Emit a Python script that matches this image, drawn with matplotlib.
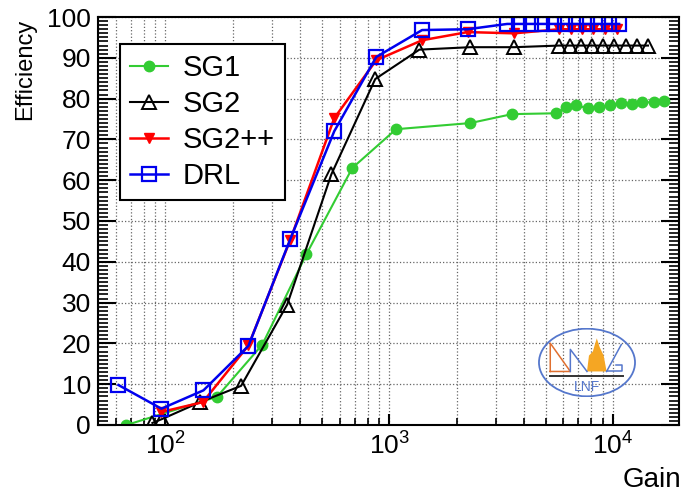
import matplotlib
matplotlib.use("Agg")
import matplotlib.pyplot as plt
from matplotlib.ticker import MultipleLocator, LogLocator, NullFormatter
from matplotlib.patches import Ellipse, Polygon

plt.rcParams['font.family'] = ['Liberation Sans', 'DejaVu Sans']

# data (gain, efficiency in %)
gain_sg1 = [67, 170, 271, 426, 684, 1073, 2300, 3540, 5560, 6170, 6840, 7730,
            8660, 9700, 10870, 12170, 13500, 15240, 16900]
eff_sg1 = [0, 6.9, 19.7, 41.8, 63, 72.5, 74, 76.2, 76.4, 77.9, 78.4, 77.6,
           77.9, 78.4, 78.9, 78.6, 79.1, 79.1, 79.4]

gain_sg2 = [87.5, 97, 143, 218, 350, 551, 866, 1363, 2300, 3620, 5740, 6425,
            7195, 8060, 9020, 10100, 11420, 12790, 14320]
eff_sg2 = [0.5, 1.5, 5.6, 9.6, 29.5, 61.4, 84.8, 92, 92.6, 92.6, 93, 93,
           93, 93, 93, 93, 93, 93, 93]

gain_sg2pp = [96, 147, 235, 361, 568, 875, 1402, 2238, 3620, 5740, 6495,
              7280, 8150, 9200, 10420]
eff_sg2pp = [3.2, 5.6, 19.5, 45.3, 75.2, 89.4, 94.3, 96.3, 96, 97, 97,
             97, 97, 97, 97]

gain_drl = [61.7, 96, 148, 235, 361, 568, 875, 1402, 2238, 3365, 3800, 4300,
            4820, 5450, 6110, 6840, 7660, 8570, 9590, 10640]
eff_drl = [9.8, 4, 8.5, 19.4, 45.5, 72, 90.2, 96.8, 97, 98.3, 98.3, 98.3,
           98.3, 98.3, 98.3, 98.3, 98.3, 98.3, 98.3, 98.3]

fig = plt.figure(figsize=(6.84, 4.92), dpi=100)
ax = fig.add_axes([98/684, 67/492, 581/684, 408/492])

ax.plot(gain_sg1, eff_sg1, color='#33cc33', lw=1.5, marker='o', ms=7.5,
        label='SG1')
ax.plot(gain_sg2, eff_sg2, color='black', lw=1.5, marker='^', ms=10,
        mfc='none', mew=1.4, label='SG2')
ax.plot(gain_sg2pp, eff_sg2pp, color='red', lw=1.8, marker='v', ms=7,
        label='SG2++')
ax.plot(gain_drl, eff_drl, color='#0000ee', lw=1.8, marker='s', ms=10,
        mfc='none', mew=1.6, label='DRL')

ax.set_xscale('log')
ax.set_xlim(50, 19700)
ax.set_ylim(0, 100)

ax.yaxis.set_major_locator(MultipleLocator(10))
ax.yaxis.set_minor_locator(MultipleLocator(1))
ax.xaxis.set_minor_locator(LogLocator(base=10, subs=range(2, 10)))
ax.xaxis.set_minor_formatter(NullFormatter())

ax.grid(True, which='major', axis='y', ls=':', color='0.4', lw=0.9)
ax.grid(True, which='both', axis='x', ls=':', color='0.4', lw=0.9)
ax.set_axisbelow(True)

for s in ax.spines.values():
    s.set_linewidth(1.5)

ax.tick_params(axis='y', which='major', direction='in', length=13, width=1.5,
               right=True, labelsize=19, pad=5)
ax.tick_params(axis='y', which='minor', direction='in', length=7, width=1.2,
               right=True)
ax.tick_params(axis='x', which='major', direction='in', length=8, width=1.5,
               labelsize=19, pad=5)
ax.tick_params(axis='x', which='minor', direction='in', length=5, width=1.2)

fig.text(25/684, 1 - 19/492, 'Efficiency', rotation=90, ha='center',
         va='top', fontsize=17)
fig.text(681/684, 1 - 480/492, 'Gain', ha='right', va='center', fontsize=20)

leg = ax.legend(loc='upper left', bbox_to_anchor=(0.038, 0.935),
                borderaxespad=0, fontsize=21, handlelength=1.3,
                handletextpad=0.5, labelspacing=0.28, borderpad=0.35,
                fancybox=False, framealpha=1)
leg.get_frame().set_edgecolor('black')
leg.get_frame().set_linewidth(1.5)

# small LNF logo in the lower right corner
lg = fig.add_axes([538/684, 95/492, 98/684, 69/492])
lg.set_xlim(0, 1)
lg.set_ylim(0, 1)
lg.axis('off')
lg.add_patch(Ellipse((0.5, 0.5), 0.98, 0.98, fill=False, ec='#5577cc',
                     lw=1.3))
lg.plot([0.125, 0.125, 0.33, 0.125], [0.37, 0.78, 0.37, 0.37],
        color='#e07030', lw=1.1)
lg.plot([0.33, 0.33, 0.5], [0.37, 0.69, 0.37], color='#5577cc', lw=1.1)
lg.add_patch(Polygon([[0.5, 0.37], [0.52, 0.6], [0.56, 0.66], [0.58, 0.76],
                      [0.6, 0.85], [0.63, 0.72], [0.67, 0.6], [0.7, 0.37]],
                     closed=True, color='#f5a623', lw=0))
lg.plot([0.7, 0.85], [0.37, 0.76], color='#5577cc', lw=1.1)
lg.plot([0.7, 0.86, 0.86, 0.8], [0.37, 0.37, 0.47, 0.47], color='#5577cc',
        lw=1.1)
lg.plot([0.125, 0.87], [0.3, 0.3], color='#333333', lw=1.4)
lg.text(0.5, 0.14, 'LNF', ha='center', va='center', color='#5577cc',
        fontsize=10)

fig.savefig('out.png', dpi=100)
